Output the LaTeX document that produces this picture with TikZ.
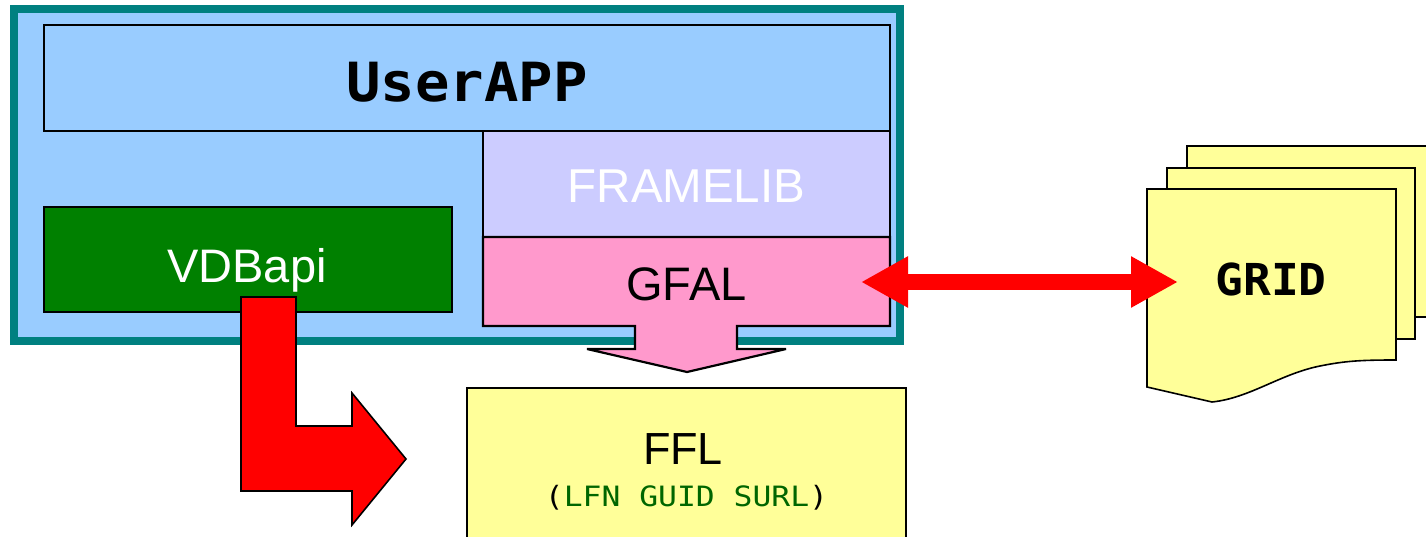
\documentclass[tikz,border=0pt]{standalone}
\usepackage{fontspec}
\usepackage{graphicx}
\setmainfont{Liberation Sans}
\newfontfamily\monofont{DejaVu Sans Mono}
\usetikzlibrary{arrows.meta}

\definecolor{skyblue}{HTML}{99CCFF}
\definecolor{frameteal}{HTML}{008080}
\definecolor{lavender}{HTML}{CCCCFF}
\definecolor{rosepink}{HTML}{FF99CC}
\definecolor{libgreen}{HTML}{008000}
\definecolor{paleyellow}{HTML}{FFFF99}
\definecolor{textgreen}{HTML}{006600}

\tikzset{
  box/.style={draw=black, line width=2.4pt, inner sep=0pt, outer sep=0pt},
  label/.style={inner sep=0pt, anchor=base},
  sheet/.style={draw=black, line width=1.6pt, fill=paleyellow, inner sep=0pt, outer sep=0pt},
  outline/.style={draw=black, line width=1.6pt, line join=miter, miter limit=3},
}

\begin{document}
\begin{tikzpicture}[x=1pt, y=-1pt]
\clip (0,0) rectangle (1426,537);
\fill[white] (0,0) rectangle (1426,537);

% application frame
\node[draw=frameteal, line width=8pt, fill=skyblue, inner sep=0pt,
      minimum width=886.5pt, minimum height=331.5pt] (frame) at (456.75,175.25) {};

% layers inside the application
\node[box, fill=skyblue, minimum width=846pt, minimum height=106pt] (userapp) at (467,78) {};
\node[label] (userapptxt) at (467,102)
  {\scalebox{1.06}[1]{\monofont\bfseries\fontsize{54}{60}\selectfont UserAPP}};

\node[box, fill=lavender, minimum width=407pt, minimum height=106pt] (framelib) at (686.5,184) {};
\node[label, text=white] (framelibtxt) at (686.5,203) {\fontsize{47.5}{50}\selectfont FRAMELIB};

\node[box, fill=libgreen, minimum width=408pt, minimum height=105pt] (vdbapi) at (248,259.5) {};
\node[label, text=white] (vdbapitxt) at (247,282) {\fontsize{47}{50}\selectfont VDBapi};

% GFAL layer with its downward arrow
\draw[outline, line width=2.2pt, fill=rosepink]
  (483,237) -- (890,237) -- (890,326) -- (737,326) -- (737,349) -- (786,349)
  -- (687,372) -- (587,349) -- (635,349) -- (635,326) -- (483,326) -- cycle;
\node[label] (gfaltxt) at (686.5,300) {\fontsize{47}{50}\selectfont GFAL};

% FFL catalogue
\node[box, fill=paleyellow, minimum width=439pt, minimum height=157pt] (ffl) at (686.5,466.5) {};
\node[label] (ffltxt) at (683,464) {\fontsize{45}{50}\selectfont FFL};
\node[label] (fflsub) at (686.5,506)
  {\scalebox{1.12}[1]{\monofont\fontsize{28}{30}\selectfont (\textcolor{textgreen}{LFN GUID SURL})}};

% bent arrow from VDBapi to FFL
\draw[outline, fill=red]
  (241,297) -- (296,297) -- (296,426) -- (352,426) -- (352,393) -- (406,459)
  -- (352,525) -- (352,491) -- (241,491) -- cycle;

% GRID document stack
\node[sheet, minimum width=253pt, minimum height=171pt] (gridback) at (1313.5,231.5) {};
\node[sheet, minimum width=248pt, minimum height=171pt] (gridmid) at (1291,253.5) {};
\draw[outline, fill=paleyellow]
  (1147,189) -- (1396,189) -- (1396,360)
  .. controls (1360,360) and (1345,361) .. (1320,366)
  .. controls (1280,374) and (1250,398) .. (1212,402)
  -- (1147,387) -- cycle;
\node[label] (gridtxt) at (1271,295)
  {\scalebox{1.05}[1]{\monofont\bfseries\fontsize{44}{50}\selectfont GRID}};

% GFAL <-> GRID exchange
\coordinate (gfalport) at (861,282);
\coordinate (gridport) at (1178,282);
\draw[red, line width=16pt,
      {Triangle[length=47pt,width=48pt]}-{Triangle[length=47pt,width=48pt]}]
  (gfalport) -- (gridport);
\end{tikzpicture}
\end{document}
